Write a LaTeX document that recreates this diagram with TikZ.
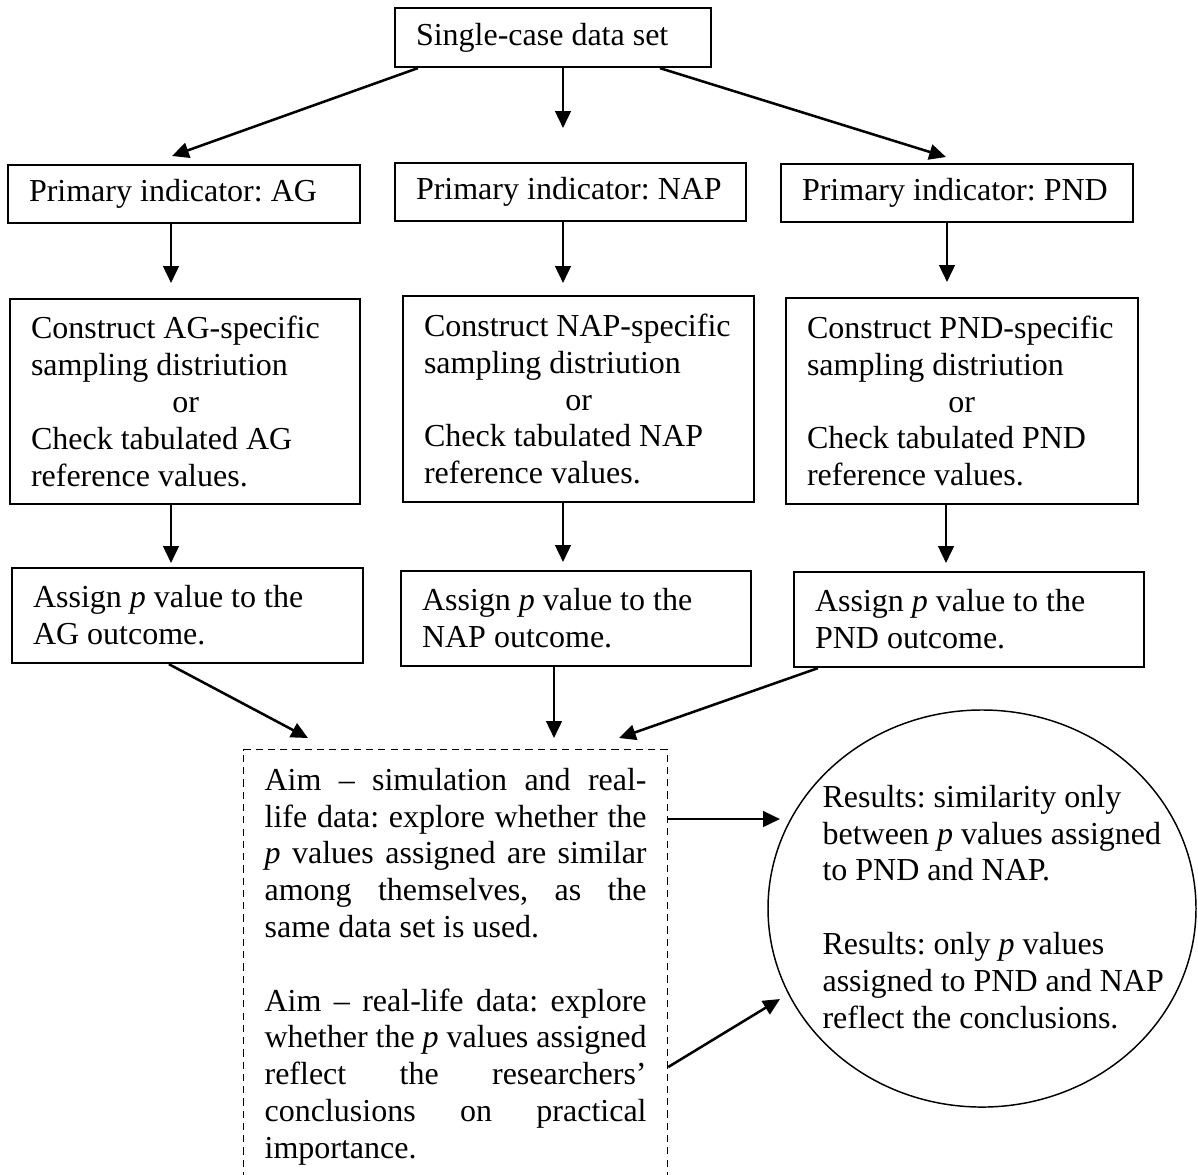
\documentclass[tikz,border=0pt]{standalone}
\usepackage{fontspec}
\setmainfont{Liberation Serif}
\usetikzlibrary{arrows.meta,shapes.geometric,calc}
\newcommand\fixspacing{\spaceskip=0pt\xspaceskip=0pt\frenchspacing}
\begin{document}
\begin{tikzpicture}[x=0.375pt,y=-0.375pt,
  txt/.style={font=\fontsize{12}{13.8}\selectfont, execute at begin node=\fixspacing},
  box/.style={txt, draw, line width=0.85pt, rectangle, inner xsep=7.875pt, inner ysep=0pt, align=left},
  dbox/.style={txt, draw, line width=0.45pt, dash pattern=on 2.7pt off 1.9pt, inner xsep=7.875pt, inner ysep=5.6pt, text width=143.25pt, align=left},
  arr/.style={line width=0.95pt, -{Triangle[length=6.3pt,width=5.8pt]}},
]
\clip (0,0) rectangle (1198,1174);
\fill[white] (0,0) rectangle (1198,1174);

% top
\node[box, text width=102.75pt, minimum height=22.1pt] (top) at (553,37.5) {\mbox{Single-case data set}};

% row 2
\node[box, text width=116.25pt, minimum height=21.75pt] (AG2) at (184,194) {\mbox{Primary indicator: AG}};
\node[box, text width=115.875pt, minimum height=21.75pt] (NAP2) at (570.5,192) {\mbox{Primary indicator: NAP}};
\node[box, text width=116.25pt, minimum height=21.75pt] (PND2) at (957,193) {\mbox{Primary indicator: PND}};

% row 3
\node[box, text width=115.5pt, minimum height=76.875pt] (AG3) at (185,401.5)
  {\mbox{Construct AG-specific}\\ \mbox{sampling distriution}\\ \hspace*{53pt}or\\ \mbox{Check tabulated AG}\\ \mbox{reference values.}};
\node[box, text width=115.875pt, minimum height=77.25pt] (NAP3) at (578.5,399)
  {\mbox{Construct NAP-specific}\\ \mbox{sampling distriution}\\ \hspace*{53pt}or\\ \mbox{Check tabulated NAP}\\ \mbox{reference values.}};
\node[box, text width=116.25pt, minimum height=77.25pt] (PND3) at (962,401)
  {\mbox{Construct PND-specific}\\ \mbox{sampling distriution}\\ \hspace*{53pt}or\\ \mbox{Check tabulated PND}\\ \mbox{reference values.}};

% row 4
\node[box, text width=115.875pt, minimum height=35.625pt] (AG4) at (187.5,615.5)
  {\mbox{Assign \textit{p} value to the}\\ \mbox{AG outcome.}};
\node[box, text width=115.5pt, minimum height=35.625pt] (NAP4) at (576,618.5)
  {\mbox{Assign \textit{p} value to the}\\ \mbox{NAP outcome.}};
\node[box, text width=115.5pt, minimum height=35.625pt] (PND4) at (969,619.5)
  {\mbox{Assign \textit{p} value to the}\\ \mbox{PND outcome.}};

% dashed aims box
\node[dbox, anchor=north west] (aims) at (243,749)
  {\makebox[143.25pt][s]{\strut Aim -- simulation and real-}\\
   \makebox[143.25pt][s]{life data: explore whether the}\\
   \makebox[143.25pt][s]{\textit{p} values assigned are similar}\\
   \makebox[143.25pt][s]{among themselves, as the}\\
   \mbox{same data set is used.}\\[13.8pt]
   \makebox[143.25pt][s]{Aim -- real-life data: explore}\\
   \makebox[143.25pt][s]{whether the \textit{p} values assigned}\\
   \makebox[143.25pt][s]{reflect the researchers’}\\
   \makebox[143.25pt][s]{conclusions on practical}\\
   \mbox{importance.}\strut};

% results ellipse
\node[draw, ellipse, line width=0.55pt, minimum width=160.5pt, minimum height=148.9pt, inner sep=0pt] (res) at (982,908.5) {};
\node[txt, anchor=north west, inner sep=0pt, align=left] (restext) at (822,781)
  {\strut Results: similarity only\\
   between \textit{p} values assigned\\
   to PND and NAP.\\[13.8pt]
   Results: only \textit{p} values\\
   assigned to PND and NAP\\
   reflect the conclusions.};

% arrows from top
\coordinate (t1) at (172,156);
\coordinate (t2) at (563,128);
\coordinate (t3) at (946,157);
\draw[arr] ($(top.south west)+(24,0)$) -- (t1);
\draw[arr] (top.south -| t2) -- (t2);
\draw[arr] ($(top.south west)+(266,0)$) -- (t3);

% row 2 -> row 3
\coordinate (a1) at (171,283);
\coordinate (a2) at (563,283);
\coordinate (a3) at (947,282);
\draw[arr] (AG2.south -| a1) -- (a1);
\draw[arr] (NAP2.south -| a2) -- (a2);
\draw[arr] (PND2.south -| a3) -- (a3);

% row 3 -> row 4
\coordinate (b1) at (171,563);
\coordinate (b2) at (563,562);
\coordinate (b3) at (946,563);
\draw[arr] (AG3.south -| b1) -- (b1);
\draw[arr] (NAP3.south -| b2) -- (b2);
\draw[arr] (PND3.south -| b3) -- (b3);

% row 4 -> aims
\coordinate (d1) at (308,738);
\coordinate (d2) at (554,738);
\coordinate (d3) at (619,738);
\draw[arr] ($(AG4.south west)+(158,0)$) -- (d1);
\draw[arr] (NAP4.south -| d2) -- (d2);
\draw[arr] ($(PND4.south west)+(25,0)$) -- (d3);

% aims -> results
\coordinate (e1) at (780,819);
\coordinate (e2) at (780,999);
\draw[arr] (aims.east |- e1) -- (e1);
\draw[arr] (aims.east |- 0,1067) -- (e2);
\end{tikzpicture}
\end{document}
